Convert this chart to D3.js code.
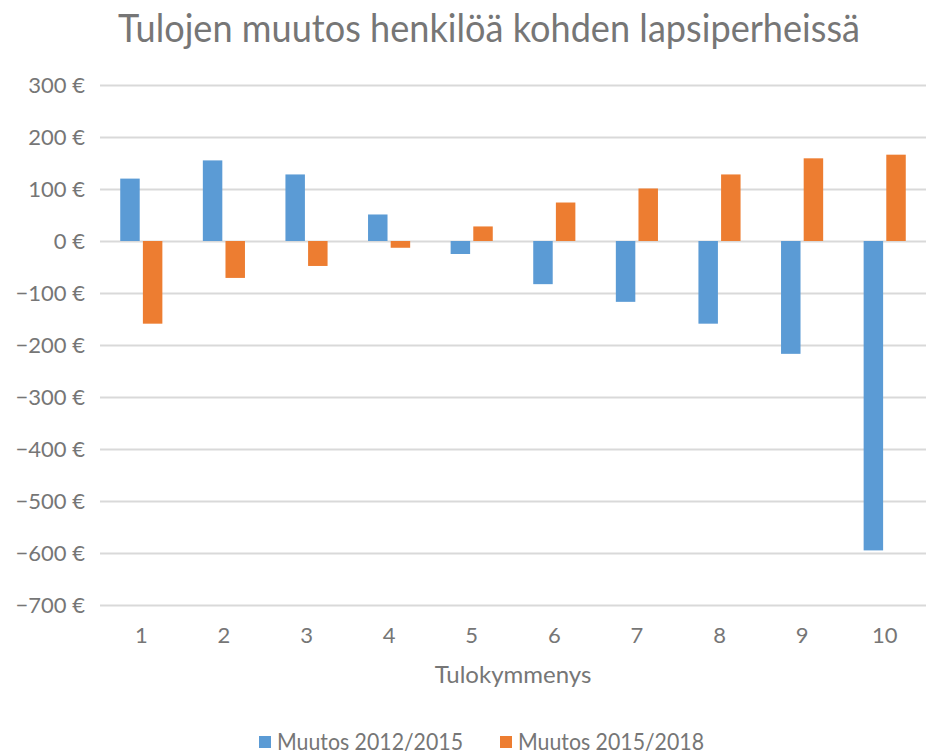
<!DOCTYPE html>
<html>
<head>
<meta charset="utf-8">
<script src="https://cdn.jsdelivr.net/npm/d3@7"></script>
<style>
  body { margin: 0; background: #fff; }
  text { font-family: Lato, "Open Sans", sans-serif; fill: #767676; font-weight: 400; }
</style>
</head>
<body>
<svg id="chart" width="927" height="756"></svg>
<script>
'use strict';
var categories = ['1', '2', '3', '4', '5', '6', '7', '8', '9', '10'];
var seriesNames = ['Muutos 2012/2015', 'Muutos 2015/2018'];
var muutos2012_2015 = [120, 155, 128, 51, -25, -83, -117, -159, -217, -595];
var muutos2015_2018 = [-159, -71, -48, -13, 28, 74, 101, 128, 159, 166];
var yTicks = [300, 200, 100, 0, -100, -200, -300, -400, -500, -600, -700];
var colors = ['#5B9BD5', '#ED7D31'];

var svg = d3.select('#chart');
var plotLeft = 100, plotRight = 926, plotTop = 85, plotBottom = 605;

var x = d3.scaleBand().domain(categories).range([plotLeft, plotRight])
        .paddingInner(0.49).paddingOuter(0.245);
var xSub = d3.scaleBand().domain(seriesNames).range([0, x.bandwidth()]).paddingInner(0.14);
var y = d3.scaleLinear().domain([-700, 300]).range([plotBottom, plotTop]);

function euro(v) {
    return (v < 0 ? '\u2212' + Math.abs(v) : v) + ' \u20AC';
}

// title
svg.append('text')
        .attr('x', 489).attr('y', 42)
        .attr('text-anchor', 'middle')
        .attr('font-size', 38)
        .attr('font-weight', 300)
        .attr('textLength', 742).attr('lengthAdjust', 'spacingAndGlyphs')
        .text('Tulojen muutos henkilöä kohden lapsiperheissä');

// gridlines + y labels
var yAxis = d3.axisLeft(y).tickValues(yTicks).tickSize(-(plotRight - plotLeft)).tickFormat(euro).tickPadding(15);
var gy = svg.append('g').attr('transform', 'translate(' + plotLeft + ',0)').call(yAxis);
gy.select('.domain').remove();
gy.selectAll('.tick line').attr('stroke', '#d9d9d9').attr('stroke-width', 2);
gy.selectAll('.tick text').attr('font-size', 22).attr('fill', '#767676').attr('font-family', 'Lato, sans-serif');

// bars
var rows = categories.map(function (c, i) {
    return {cat: c, values: [muutos2012_2015[i], muutos2015_2018[i]]};
});
var groups = svg.append('g').selectAll('g')
        .data(rows).enter().append('g')
        .attr('transform', function (d) { return 'translate(' + x(d.cat) + ',0)'; });
groups.selectAll('rect')
        .data(function (d) {
            return d.values.map(function (v, k) { return {name: seriesNames[k], value: v, k: k}; });
        })
        .enter().append('rect')
        .attr('x', function (d) { return xSub(d.name); })
        .attr('width', xSub.bandwidth())
        .attr('y', function (d) { return y(Math.max(0, d.value)); })
        .attr('height', function (d) { return Math.abs(y(d.value) - y(0)); })
        .attr('fill', function (d) { return colors[d.k]; });

// x axis labels
var xAxis = d3.axisBottom(x).tickSize(0).tickPadding(0);
var gx = svg.append('g').attr('transform', 'translate(0,' + (plotBottom + 22) + ')').call(xAxis);
gx.select('.domain').remove();
gx.selectAll('.tick text').attr('font-size', 22).attr('fill', '#767676').attr('font-family', 'Lato, sans-serif');

// axis title
svg.append('text')
        .attr('x', (plotLeft + plotRight) / 2).attr('y', 683)
        .attr('text-anchor', 'middle')
        .attr('font-size', 24)
        .text('Tulokymmenys');

// legend
var legendX = [259, 500];
var legend = svg.append('g').selectAll('g')
        .data(seriesNames).enter().append('g')
        .attr('transform', function (d, i) { return 'translate(' + legendX[i] + ',0)'; });
legend.append('rect')
        .attr('x', 0).attr('y', 736).attr('width', 12).attr('height', 12)
        .attr('fill', function (d, i) { return colors[i]; });
legend.append('text')
        .attr('x', 18).attr('y', 750)
        .attr('font-size', 23)
        .attr('textLength', 186).attr('lengthAdjust', 'spacingAndGlyphs')
        .text(function (d) { return d; });
</script>
</body>
</html>
